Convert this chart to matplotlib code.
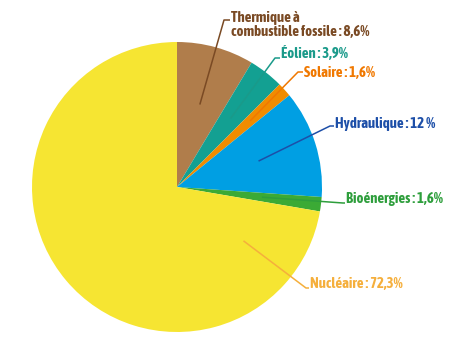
import numpy as np
import matplotlib.pyplot as plt
from matplotlib import font_manager as fm

# ── Données ───────────────────────────────────────────────
labels = ["Thermique à\ncombustible fossile : 8,6%", "Éolien : 3,9%", "Solaire : 1,6%",
          "Hydraulique : 12 %", "Bioénergies : 1,6%", "Nucléaire : 72,3%"]
values = [8.6, 3.9, 1.6, 12, 1.6, 72.3]
colors = ["#B07D4B", "#13A092", "#F08C00", "#009FE3", "#3BAA35", "#F6E532"]
text_colors = ["#7A4A24", "#1A9A8A", "#F07800", "#1D4FA8", "#2E9E3C", "#F5AF3C"]

# ── Police : condensée si disponible ──────────────────────
installed = {f.name for f in fm.fontManager.ttflist}
if "Asap Condensed" in installed:
    font, fsize = ["Asap Condensed", "DejaVu Sans"], 10.6
else:
    font, fsize = ["Liberation Sans", "DejaVu Sans"], 7.5

# ── Mise en page (pixels) ─────────────────────────────────
W, H = 450, 353
cx, cy, R = 177, H - 187, 145
anchor_r = [0.59, 0.6, 0.68, 0.59, 0.59, 0.59]
anchor_override = {5: -39}          # angle (deg) du départ du trait pour Nucléaire
elbow = [(224, 20), (275, 58), (298, 72), (330, 126), (343, 203), (306, 288)]
text_xy = [(231, 25), (281, 53), (304, 73), (335, 124), (346, 199), (310, 284)]

fig = plt.figure(figsize=(W / 100, H / 100), dpi=100)
ax = fig.add_axes([0, 0, 1, 1])

wedges, _ = ax.pie(values, colors=colors, startangle=90, counterclock=False,
                   center=(cx, cy), radius=R, wedgeprops=dict(linewidth=0))

for i, w in enumerate(wedges):
    ang = anchor_override.get(i, (w.theta1 + w.theta2) / 2)
    x0 = cx + anchor_r[i] * R * np.cos(np.radians(ang))
    y0 = cy + anchor_r[i] * R * np.sin(np.radians(ang))
    ex, ey = elbow[i][0], H - elbow[i][1]
    tx, ty = text_xy[i][0], H - text_xy[i][1]
    ax.plot([x0, ex, tx - 1], [y0, ey, ey], color=text_colors[i], lw=1.1,
            solid_capstyle="butt")
    ax.text(tx, ty, labels[i], color=text_colors[i], fontsize=fsize, fontweight="bold",
            family=font, ha="left", va="center", linespacing=1.0)

ax.set_xlim(0, W)
ax.set_ylim(0, H)
ax.set_aspect("equal")
ax.axis("off")

plt.savefig("out.png", dpi=100)
